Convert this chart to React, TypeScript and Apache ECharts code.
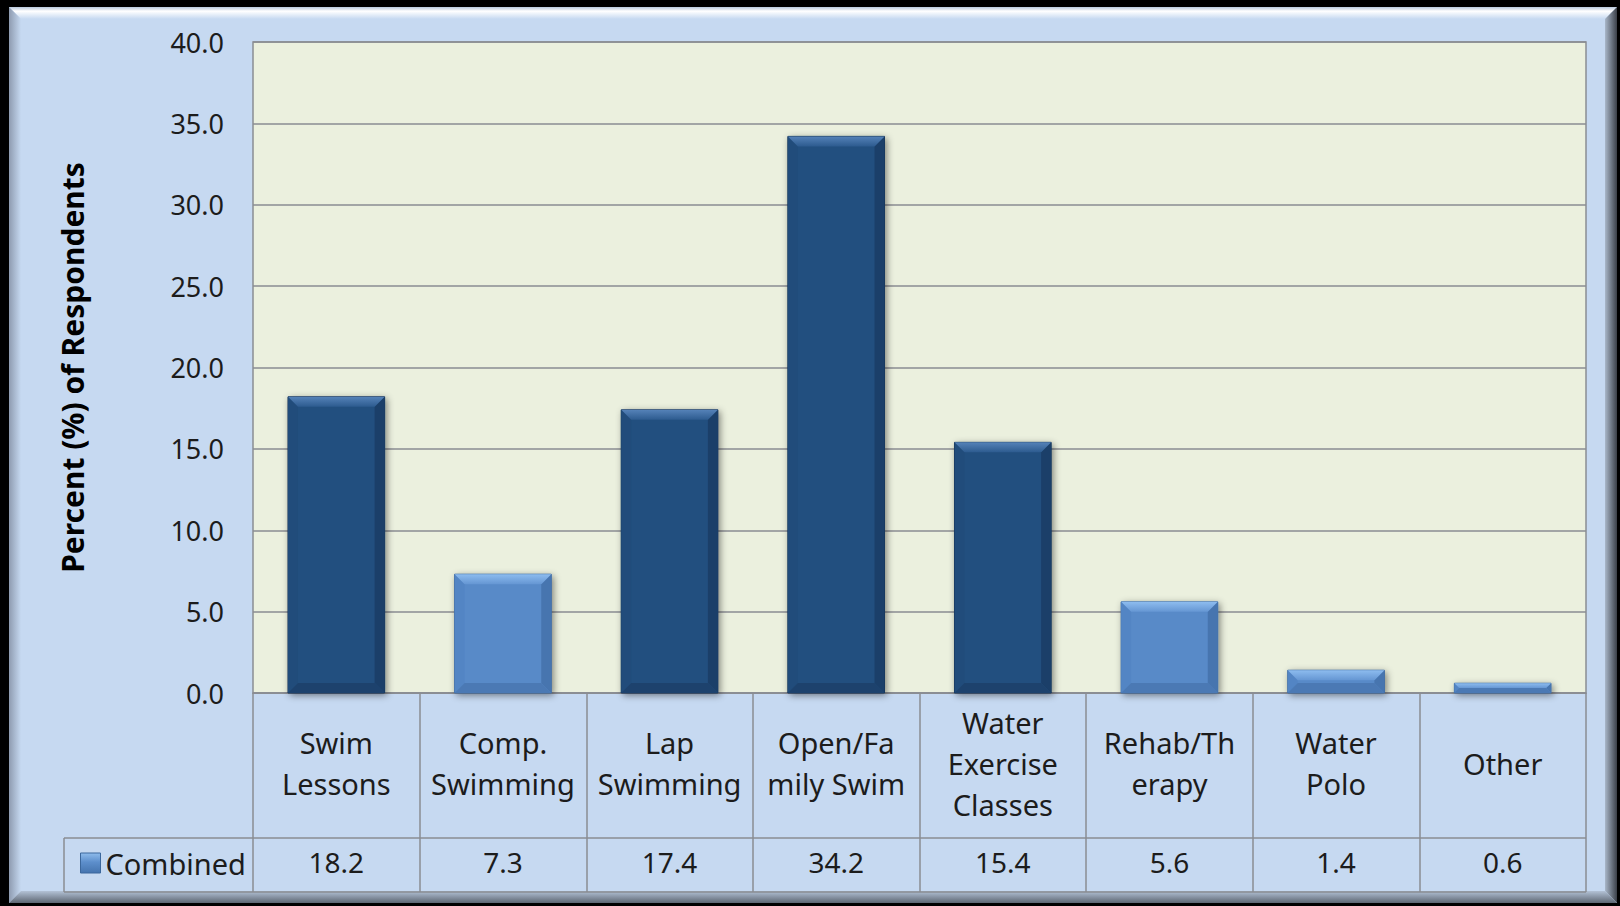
import React, { useEffect, useRef } from "react";
import * as echarts from "echarts";

// ---- data ----
const categories = [
  "Swim\nLessons",
  "Comp.\nSwimming",
  "Lap\nSwimming",
  "Open/Fa\nmily Swim",
  "Water\nExercise\nClasses",
  "Rehab/Th\nerapy",
  "Water\nPolo",
  "Other",
];
const values = [18.2, 7.3, 17.4, 34.2, 15.4, 5.6, 1.4, 0.6];
const seriesName = "Combined";
const yAxisTitle = "Percent (%) of Respondents";
const yMin = 0;
const yMax = 40;
const yStep = 5;
// bar shade per category
const shades = ["dark", "light", "dark", "dark", "dark", "light", "light", "light"];

// ---- styles ----
const W = 1620;
const H = 906;
const GRID = { left: 253, right: 34, top: 42, bottom: 213 };
const TABLE_BOTTOM = 892;
const ROW_SPLIT = 838;
const LEGEND_LEFT = 64;
const FONT = "'Noto Sans', 'DejaVu Sans', sans-serif";
const TEXT = "#1c1c1c";
const LINE = "#8a8d92";
const PANEL = "#c6d9f1";
const PLOT_BG = "#ebf0de";

const palettes: Record<string, any> = {
  dark: {
    main: "#24507f",
    topA: "#5582b8",
    topB: "#2d5b8f",
    left: "#214c7b",
    right: "#1b3f69",
    bottom: "#1d426d",
    edge: "#163456",
  },
  light: {
    main: "#588ac8",
    topA: "#8dbcef",
    topB: "#6596d3",
    left: "#5385c4",
    right: "#4775af",
    bottom: "#4b79b4",
    edge: "#3e6aa0",
  },
};

function lg(x2: number, y2: number, a: string, b: string) {
  return new echarts.graphic.LinearGradient(0, 0, x2, y2, [
    { offset: 0, color: a },
    { offset: 1, color: b },
  ]);
}

export default function App() {
  const ref = useRef<HTMLDivElement>(null);

  useEffect(() => {
    if (!ref.current) return;
    const chart = echarts.init(ref.current, undefined, { renderer: "svg" });

    const B = 12; // frame bevel
    const px0 = 9,
      py0 = 7,
      px1 = W - 3,
      py1 = H - 3;

    const option: any = {
      animation: false,
      backgroundColor: "#000",
      textStyle: { fontFamily: FONT },
      graphic: [
        {
          type: "rect",
          z: -20,
          shape: { x: px0, y: py0, width: px1 - px0, height: py1 - py0 },
          style: { fill: PANEL },
        },
        {
          type: "polygon",
          z: -19,
          shape: {
            points: [
              [px0, py0],
              [px1, py0],
              [px1 - B, py0 + B],
              [px0 + B, py0 + B],
            ],
          },
          style: {
            fill: new echarts.graphic.LinearGradient(0, 0, 0, 1, [
              { offset: 0, color: "#b9c9de" },
              { offset: 0.35, color: "#ffffff" },
              { offset: 1, color: PANEL },
            ]),
          },
        },
        {
          type: "polygon",
          z: -19,
          shape: {
            points: [
              [px0, py0],
              [px0 + B, py0 + B],
              [px0 + B, py1 - B],
              [px0, py1],
            ],
          },
          style: { fill: lg(1, 0, "#8e9bb0", PANEL) },
        },
        {
          type: "polygon",
          z: -19,
          shape: {
            points: [
              [px1, py0],
              [px1 - B, py0 + B],
              [px1 - B, py1 - B],
              [px1, py1],
            ],
          },
          style: { fill: lg(1, 0, "#a9b7c9", "#3b4048") },
        },
        {
          type: "polygon",
          z: -19,
          shape: {
            points: [
              [px0, py1],
              [px0 + B, py1 - B],
              [px1 - B, py1 - B],
              [px1, py1],
            ],
          },
          style: { fill: lg(0, 1, "#b3c2d6", "#5d6672") },
        },
        // data table lines
        {
          type: "line",
          z: 5,
          shape: { x1: LEGEND_LEFT, y1: ROW_SPLIT, x2: W - GRID.right, y2: ROW_SPLIT },
          style: { stroke: LINE, lineWidth: 1.5 },
        },
        {
          type: "line",
          z: 5,
          shape: { x1: LEGEND_LEFT, y1: TABLE_BOTTOM, x2: W - GRID.right, y2: TABLE_BOTTOM },
          style: { stroke: LINE, lineWidth: 1.5 },
        },
        {
          type: "line",
          z: 5,
          shape: { x1: LEGEND_LEFT, y1: ROW_SPLIT, x2: LEGEND_LEFT, y2: TABLE_BOTTOM },
          style: { stroke: LINE, lineWidth: 1.5 },
        },
      ],
      grid: {
        ...GRID,
        show: true,
        backgroundColor: PLOT_BG,
        borderColor: LINE,
        borderWidth: 1.5,
      },
      legend: {
        data: [seriesName],
        left: 75,
        top: 843,
        selectedMode: false,
        icon: "rect",
        itemWidth: 20,
        itemHeight: 20,
        itemGap: 6,
        itemStyle: {
          color: new echarts.graphic.LinearGradient(0, 0, 0, 1, [
            { offset: 0, color: "#8fbcec" },
            { offset: 0.45, color: "#5d8fcc" },
            { offset: 1, color: "#4574ae" },
          ]),
          borderColor: "#3b679c",
          borderWidth: 1,
        },
        textStyle: { fontSize: 29, color: TEXT, fontFamily: FONT, lineHeight: 30 },
      },
      xAxis: [
        {
          type: "category",
          data: categories,
          boundaryGap: true,
          axisLine: { show: true, lineStyle: { color: LINE, width: 1.5 } },
          axisTick: {
            show: true,
            length: TABLE_BOTTOM - (H - GRID.bottom),
            lineStyle: { color: LINE, width: 1.5 },
          },
          axisLabel: {
            interval: 0,
            fontSize: 29,
            lineHeight: 41,
            color: TEXT,
            fontFamily: FONT,
            margin: 70,
            verticalAlign: "middle",
            align: "center",
          },
          splitLine: { show: false },
        },
        {
          type: "category",
          position: "bottom",
          data: values.map((v) => v.toFixed(1)),
          boundaryGap: true,
          axisLine: { show: false },
          axisTick: { show: false },
          axisLabel: {
            interval: 0,
            fontSize: 28,
            color: TEXT,
            fontFamily: FONT,
            margin: 862 - (H - GRID.bottom),
            verticalAlign: "middle",
          },
          splitLine: { show: false },
        },
      ],
      yAxis: {
        type: "value",
        min: yMin,
        max: yMax,
        interval: yStep,
        name: yAxisTitle,
        nameLocation: "middle",
        nameRotate: 90,
        nameGap: GRID.left - 72,
        nameTextStyle: {
          fontSize: 30,
          fontWeight: "bold",
          color: "#000",
          fontFamily: FONT,
          verticalAlign: "middle",
        },
        axisLine: { show: false },
        axisTick: { show: false },
        axisLabel: {
          formatter: (v: number) => v.toFixed(1),
          fontSize: 27,
          color: TEXT,
          fontFamily: FONT,
          margin: 29,
        },
        splitLine: { show: true, lineStyle: { color: LINE, width: 1.5 } },
      },
      series: [
        {
          type: "custom",
          name: seriesName,
          xAxisIndex: 0,
          yAxisIndex: 0,
          itemStyle: { color: "#4f81bd" },
          encode: { x: 0, y: 1 },
          data: values.map((v, i) => [i, v]),
          renderItem: (params: any, api: any) => {
            const idx = api.value(0);
            const val = api.value(1);
            const top = api.coord([idx, val]);
            const base = api.coord([idx, 0]);
            const bw = api.size([1, 0])[0] * 0.58;
            const x0 = top[0] - bw / 2;
            const x1 = top[0] + bw / 2;
            const y0 = top[1];
            const y1 = base[1];
            const h = y1 - y0;
            const b = Math.min(10, h / 2);
            const p = palettes[shades[params.dataIndex]];
            return {
              type: "group",
              children: [
                {
                  type: "rect",
                  shape: { x: x0, y: y0, width: bw, height: h },
                  style: {
                    fill: p.main,
                    stroke: p.edge,
                    lineWidth: 1,
                    shadowBlur: 7,
                    shadowColor: "rgba(0,0,0,0.45)",
                    shadowOffsetX: 2,
                    shadowOffsetY: 2,
                  },
                },
                {
                  type: "polygon",
                  shape: {
                    points: [
                      [x0, y0],
                      [x0 + b, y0 + b],
                      [x0 + b, y1 - b],
                      [x0, y1],
                    ],
                  },
                  style: { fill: p.left },
                },
                {
                  type: "polygon",
                  shape: {
                    points: [
                      [x1, y0],
                      [x1 - b, y0 + b],
                      [x1 - b, y1 - b],
                      [x1, y1],
                    ],
                  },
                  style: { fill: p.right },
                },
                {
                  type: "polygon",
                  shape: {
                    points: [
                      [x0, y1],
                      [x0 + b, y1 - b],
                      [x1 - b, y1 - b],
                      [x1, y1],
                    ],
                  },
                  style: { fill: p.bottom },
                },
                {
                  type: "polygon",
                  shape: {
                    points: [
                      [x0, y0],
                      [x1, y0],
                      [x1 - b, y0 + b],
                      [x0 + b, y0 + b],
                    ],
                  },
                  style: { fill: lg(0, 1, p.topA, p.topB) },
                },
              ],
            };
          },
        },
      ],
    };

    chart.setOption(option);
    return () => chart.dispose();
  }, []);

  return (
    <div
      ref={ref}
      style={{ position: "absolute", left: 0, top: 0, width: W, height: H }}
    />
  );
}
